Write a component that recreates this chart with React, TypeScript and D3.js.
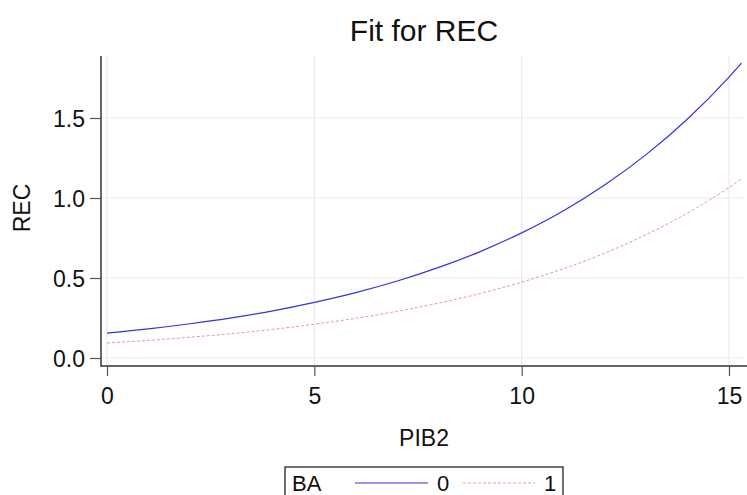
import React, { useEffect, useRef } from "react";
import * as d3 from "d3";

// fitted values
const pib2 = [0, 1, 2, 3, 4, 5, 6, 7, 8, 9, 10, 11, 12, 13, 14, 15, 15.3];
const recBA0 = [0.155, 0.182, 0.214, 0.251, 0.295, 0.348, 0.409, 0.481, 0.566, 0.665, 0.782, 0.919, 1.081, 1.271, 1.494, 1.756, 1.843];
const recBA1 = [0.094, 0.11, 0.13, 0.152, 0.179, 0.211, 0.248, 0.292, 0.343, 0.403, 0.474, 0.557, 0.655, 0.771, 0.906, 1.066, 1.118];
const xTicks = [0, 5, 10, 15];
const yTicks = [0, 0.5, 1.0, 1.5];
const seriesNames = ["0", "1"];

const FONT = "'Liberation Sans', Arial, sans-serif";

const App = () => {
  const width = 747;
  const height = 495;
  const axesRef = useRef<SVGGElement>(null);

  const xScale = d3.scaleLinear().domain([0, 15]).range([107, 729]);
  const yScale = d3.scaleLinear().domain([0, 1.5]).range([358, 118]);
  const plot = { left: 101, right: 745, top: 56, bottom: 366 };

  useEffect(() => {
    const g = d3.select(axesRef.current);
    g.selectAll("*").remove();

    const xAxis = g
      .append("g")
      .attr("transform", `translate(0, ${plot.bottom})`)
      .call(d3.axisBottom(xScale).tickValues(xTicks).tickSize(10).tickPadding(12).tickFormat(d3.format("d")));
    xAxis.select(".domain").remove();
    xAxis.selectAll(".tick line").attr("stroke", "#555").attr("stroke-width", 1.2);
    xAxis.selectAll("text").attr("font-size", 23).attr("font-family", FONT).attr("fill", "#111");

    const yAxis = g
      .append("g")
      .attr("transform", `translate(${plot.left}, 0)`)
      .call(d3.axisLeft(yScale).tickValues(yTicks).tickSize(11).tickPadding(5).tickFormat(d3.format(".1f")));
    yAxis.select(".domain").remove();
    yAxis.selectAll(".tick line").attr("stroke", "#555").attr("stroke-width", 1.2);
    yAxis.selectAll("text").attr("font-size", 23).attr("font-family", FONT).attr("fill", "#111").attr("dy", "0.36em");
  }, []);

  const line = d3
    .line<number>()
    .x((d, i) => xScale(pib2[i]))
    .y((d) => yScale(d))
    .curve(d3.curveMonotoneX);

  return (
    <svg width={width} height={height} style={{ position: "absolute", left: 0, top: 0, background: "#fff" }}>
      {/* grid */}
      {xTicks.map((t) => (
        <line key={"gx" + t} x1={xScale(t)} x2={xScale(t)} y1={plot.top} y2={plot.bottom} stroke="#ebebeb" strokeWidth={1.2} />
      ))}
      {yTicks.map((t) => (
        <line key={"gy" + t} x1={plot.left} x2={plot.right} y1={yScale(t)} y2={yScale(t)} stroke="#ebebeb" strokeWidth={1.2} />
      ))}

      <path d={line(recBA1) || ""} fill="none" stroke="#e39aaa" strokeWidth={1} strokeDasharray="3,2" />
      <path d={line(recBA0) || ""} fill="none" stroke="#3333dd" strokeWidth={1.2} />

      {/* axis lines */}
      <line x1={plot.left} x2={plot.left} y1={plot.top} y2={plot.bottom + 0.7} stroke="#333" strokeWidth={1.5} />
      <line x1={plot.left} x2={width} y1={plot.bottom} y2={plot.bottom} stroke="#333" strokeWidth={1.5} />
      <g ref={axesRef} />

      <text x={424} y={41} textAnchor="middle" fontSize={30} fontFamily={FONT} fill="#111">Fit for REC</text>
      <text x={424} y={446} textAnchor="middle" fontSize={23} fontFamily={FONT} fill="#111">PIB2</text>
      <text transform="translate(30, 208) rotate(-90)" textAnchor="middle" fontSize={23} fontFamily={FONT} fill="#111">REC</text>

      {/* legend */}
      <rect x={285} y={467} width={278} height={40} fill="#fff" stroke="#111" strokeWidth={1.2} />
      <text x={292} y={491} fontSize={22} fontFamily={FONT} fill="#111">BA</text>
      <line x1={355} x2={428} y1={483} y2={483} stroke="#3333dd" strokeWidth={1.2} />
      <text x={437} y={491} fontSize={22} fontFamily={FONT} fill="#111">{seriesNames[0]}</text>
      <line x1={463} x2={535} y1={483} y2={483} stroke="#e39aaa" strokeWidth={1} strokeDasharray="3,2" />
      <text x={544} y={491} fontSize={22} fontFamily={FONT} fill="#111">{seriesNames[1]}</text>
    </svg>
  );
};

export default App;
